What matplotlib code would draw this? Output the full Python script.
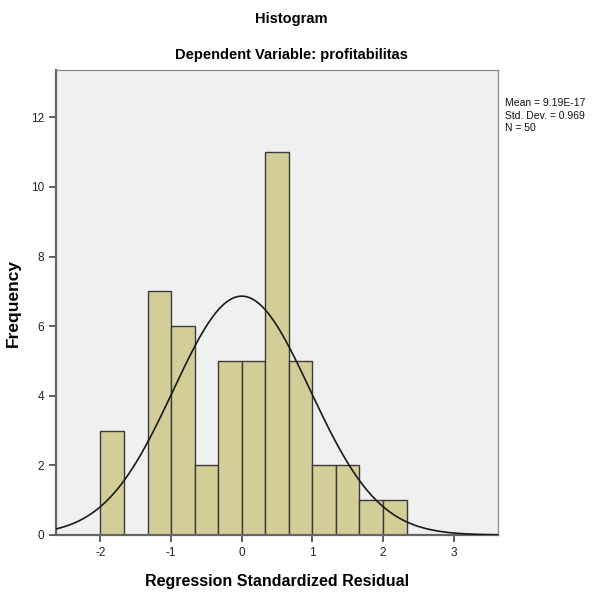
import numpy as np
import matplotlib
matplotlib.use("Agg")
import matplotlib.pyplot as plt

plt.rcParams["font.family"] = ["Liberation Sans", "DejaVu Sans"]
plt.rcParams["axes.unicode_minus"] = False

# histogram bins (left edges) and counts
bin_width = 1.0 / 3.0
bin_lefts = [-2.0, -5/3, -4/3, -1.0, -2/3, -1/3, 0.0, 1/3, 2/3, 1.0, 4/3, 5/3, 2.0]
counts = [3, 0, 7, 6, 2, 5, 5, 11, 5, 2, 2, 1, 1]

mean = 9.19e-17
std = 0.969
n = 50

xticks = [-2, -1, 0, 1, 2, 3]
yticks = [0, 2, 4, 6, 8, 10, 12]

fig = plt.figure(figsize=(5.94, 5.92), dpi=100)
ax = fig.add_axes([0.0938, 0.0963, 0.7444, 0.7855])
ax.set_facecolor("#F0F0F0")

ax.bar(bin_lefts, counts, width=bin_width, align="edge",
       color="#D3CE97", edgecolor="#3A3A3A", linewidth=1.0, zorder=2)

# fitted normal curve
xs = np.linspace(-2.634, 3.626, 400)
ys = n * bin_width / (std * np.sqrt(2 * np.pi)) * np.exp(-0.5 * ((xs - mean) / std) ** 2)
ax.plot(xs, ys, color="#1a1a1a", linewidth=1.2, zorder=3)

ax.set_xlim(-2.634, 3.626)
ax.set_ylim(0, 13.36)
ax.set_xticks(xticks)
ax.set_yticks(yticks)
ax.tick_params(direction="out", length=5, width=1.2, color="#444444",
               labelsize=8.5, labelcolor="#222222")

for side in ["left", "bottom"]:
    ax.spines[side].set_color("#666666")
    ax.spines[side].set_linewidth(1.6)
for side in ["top", "right"]:
    ax.spines[side].set_color("#888888")
    ax.spines[side].set_linewidth(0.9)

ax.set_xlabel("Regression Standardized Residual", fontsize=11.5, fontweight="bold", labelpad=11)
fig.text(0.022, 0.489, "Frequency", rotation=90, ha="center", va="center",
         fontsize=12.5, fontweight="bold")

fig.text(0.49, 0.968, "Histogram", ha="center", va="center", fontsize=10.5, fontweight="bold")
fig.text(0.49, 0.907, "Dependent Variable: profitabilitas", ha="center", va="center",
         fontsize=10.5, fontweight="bold")

fig.text(0.851, 0.834, "Mean = 9.19E-17\nStd. Dev. = 0.969\nN = 50",
         ha="left", va="top", fontsize=7.5, linespacing=1.3, color="#111111")

fig.savefig("out.png", dpi=100)
